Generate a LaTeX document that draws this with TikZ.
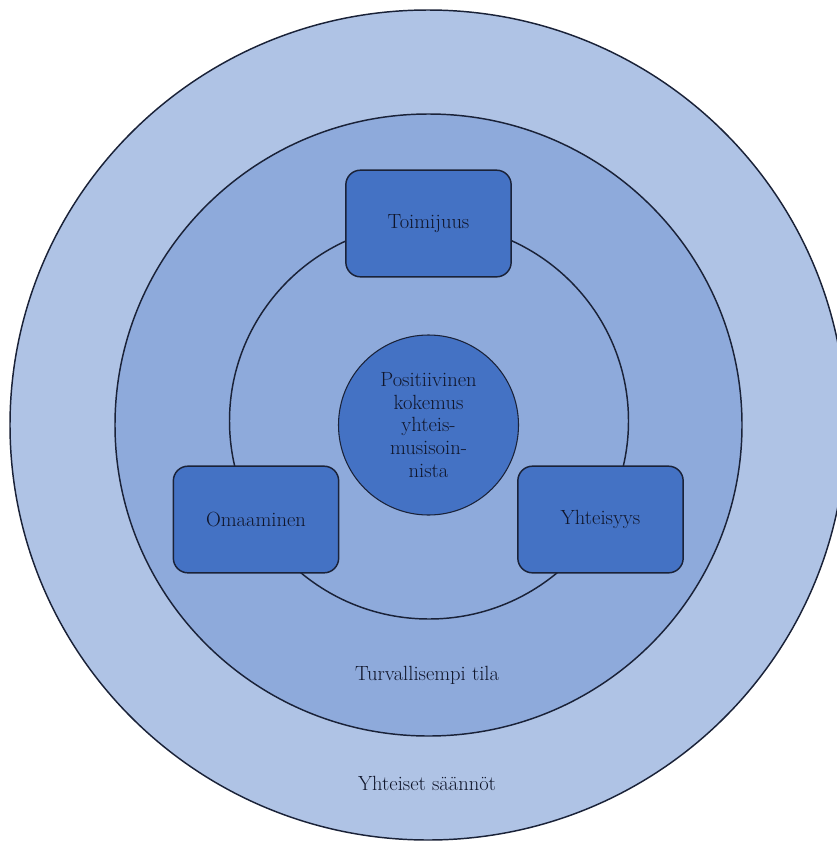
\documentclass[tikz,border=0pt]{standalone}
\usepackage{fontspec}
\definecolor{ringouter}{HTML}{AFC3E5}
\definecolor{ringmid}{HTML}{8EAADB}
\definecolor{core}{HTML}{4472C4}
\definecolor{edge}{HTML}{1A2238}
\definecolor{ink}{HTML}{10162B}
\tikzset{
  ring/.style={draw=edge, line width=1.1pt},
  pillar/.style={draw=edge, line width=1.1pt, fill=core, rounded corners=11pt,
    minimum width=124pt, minimum height=80pt, text=ink,
    font=\fontsize{15.4}{17.2}\selectfont},
  hub/.style={circle, draw=edge, line width=0.8pt, fill=core, minimum size=135pt,
    inner sep=0pt, align=center, text=ink, font=\fontsize{15.4}{17.2}\selectfont},
  label/.style={text=ink, font=\fontsize{15.4}{17.2}\selectfont}
}
\begin{document}
\begin{tikzpicture}[x=0.75pt,y=-0.75pt]
  \useasboundingbox (0,0) rectangle (837,843);
  \clip (0,0) rectangle (837,843);
  % shared rules and safer space
  \filldraw[ring, fill=ringouter] (428,425) ellipse [x radius=418, y radius=415];
  \filldraw[ring, fill=ringmid] (428.5,425) ellipse [x radius=313.5, y radius=311];
  % ring joining the three elements
  \draw[ring] (429,421) ellipse [x radius=199.5, y radius=198];
  % centre
  \node[hub] (centre) at (428.5,425)
    {Positiivinen\\kokemus\\yhteis-\\musisoin-\\nista};
  % three elements
  \node[pillar] (toim) at (428.5,223.5) {Toimijuus};
  \node[pillar] (omaa) at (256,519.5) {Omaaminen};
  \node[pillar] (yht) at (600.5,519.5) {Yhteisyys};
  % ring labels
  \node[label] (safe) at (427,675) {Turvallisempi tila};
  \node[label] (rules) at (427,783) {Yhteiset säännöt};
\end{tikzpicture}
\end{document}
